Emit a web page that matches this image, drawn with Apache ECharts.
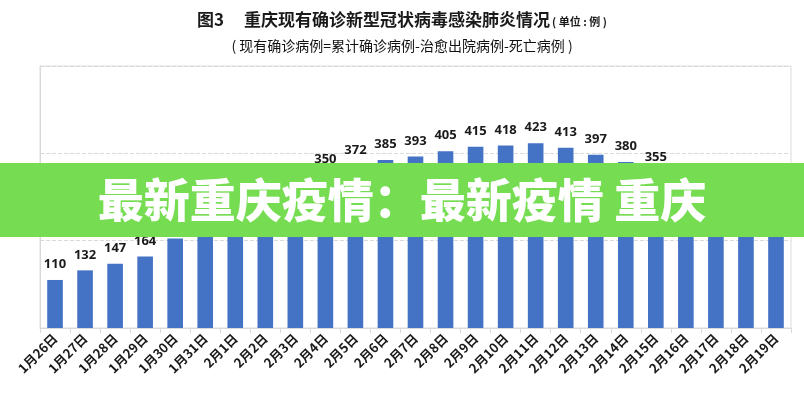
<!DOCTYPE html>
<html>
<head>
<meta charset="utf-8">
<script src="https://cdn.jsdelivr.net/npm/echarts@6/dist/echarts.min.js"></script>
<style>html,body{margin:0;padding:0;background:#fff}#c{width:804px;height:400px}</style>
</head>
<body>
<div id="c"></div>
<script>
const categories = ['1月26日','1月27日','1月28日','1月29日','1月30日','1月31日','2月1日','2月2日','2月3日','2月4日','2月5日','2月6日','2月7日','2月8日','2月9日','2月10日','2月11日','2月12日','2月13日','2月14日','2月15日','2月16日','2月17日','2月18日','2月19日'];
const currentCases = [110,132,147,164,205,235,257,291,322,350,372,385,393,405,415,418,423,413,397,380,355,330,312,295,278];
const yTicks = {min: 0, max: 600, interval: 200};
const titleText = '重庆现有确诊新型冠状病毒感染肺炎情况';
const subText = '( 现有确诊病例=累计确诊病例-治愈出院病例-死亡病例 )';
const bannerText = '最新重庆疫情：最新疫情 重庆';

const chart = echarts.init(document.getElementById('c'), null, {renderer: 'canvas'});
const cjk = '"Noto Sans CJK SC", sans-serif';
chart.setOption({
  animation: false,
  backgroundColor: '#fff',
  title: [{
    left: 'center', top: 6,
    text: '{a|图3}{g|}{b|' + titleText + '}{c|( 单位 : 例 )}',
    textStyle: {
      rich: {
        a: {fontFamily: cjk, fontWeight: 'bold', fontSize: 17, color: '#1a1a1a'},
        g: {width: 20},
        b: {fontFamily: cjk, fontWeight: 'bold', fontSize: 17, color: '#1a1a1a'},
        c: {fontFamily: cjk, fontSize: 11, color: '#1a1a1a', padding: [3, 0, 0, 2]}
      }
    }
  }, {
    left: 'center', top: 34,
    text: subText,
    textStyle: {fontFamily: cjk, fontSize: 14, fontWeight: 'normal', color: '#111'}
  }],
  grid: {left: 40, right: 13, top: 66, bottom: 72, show: true, borderColor: '#dcdcdc', borderWidth: 1},
  xAxis: {
    type: 'category',
    data: categories,
    axisLine: {lineStyle: {color: '#d9d9d9'}},
    axisTick: {show: true, length: 5, lineStyle: {color: '#d9d9d9'}},
    axisLabel: {rotate: 45, margin: 8, fontSize: 13, fontWeight: 'bold', color: '#1a1a1a', fontFamily: cjk, interval: 0}
  },
  yAxis: {
    type: 'value',
    min: yTicks.min, max: yTicks.max, interval: yTicks.interval,
    axisLine: {show: true, lineStyle: {color: '#d9d9d9'}},
    axisTick: {show: false},
    axisLabel: {show: false},
    splitLine: {show: true, lineStyle: {color: '#d9d9d9', type: 'dashed'}}
  },
  series: [{
    type: 'bar',
    data: currentCases,
    barWidth: '52%',
    itemStyle: {color: '#4472C4'},
    label: {show: true, position: 'top', distance: 9, fontSize: 13, fontWeight: 'bold', color: '#1a1a1a', fontFamily: '"Open Sans", sans-serif'}
  }],
  graphic: [{
    type: 'rect', left: 0, top: 163, z: 100,
    shape: {width: 804, height: 74},
    style: {fill: '#76DD53'}
  }, {
    type: 'text', z: 101,
    x: 402, y: 200,
    style: {
      text: bannerText, fill: '#fff', fontSize: 46, fontWeight: 900,
      fontFamily: cjk, align: 'center', verticalAlign: 'middle'
    }
  }]
});
</script>
</body>
</html>
